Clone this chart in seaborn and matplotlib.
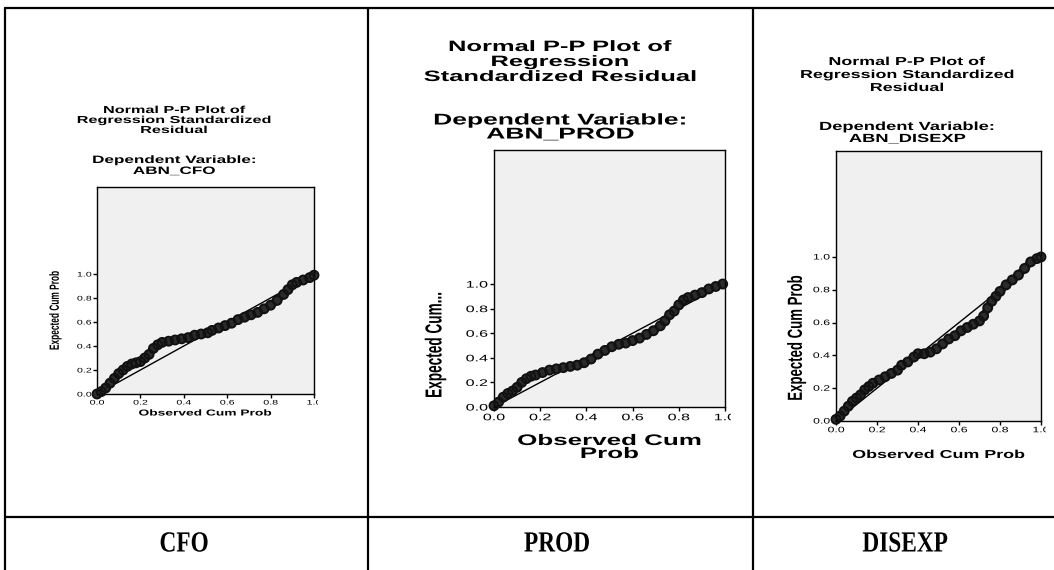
import matplotlib
matplotlib.use("Agg")
import matplotlib.pyplot as plt
import seaborn as sns
import pandas as pd
from matplotlib.patheffects import AbstractPathEffect
from matplotlib.transforms import Affine2D, Bbox, TransformedBbox
from matplotlib.lines import Line2D

# ---------------------------------------------------------------------------
# Normal P-P plot values: observed vs expected cumulative probability
# ---------------------------------------------------------------------------
cfo_observed = [0.00, 0.02, 0.04, 0.06, 0.08, 0.10, 0.12, 0.14, 0.16, 0.18,
                0.20, 0.22, 0.24, 0.26, 0.28, 0.30, 0.33, 0.36, 0.39, 0.42,
                0.45, 0.48, 0.51, 0.53, 0.56, 0.59, 0.62, 0.65, 0.68, 0.71,
                0.74, 0.77, 0.80, 0.83, 0.86, 0.88, 0.90, 0.92, 0.95, 0.98, 1.00]
cfo_expected = [0.00, 0.02, 0.05, 0.09, 0.13, 0.17, 0.20, 0.23, 0.25, 0.26,
                0.27, 0.30, 0.33, 0.38, 0.41, 0.43, 0.44, 0.45, 0.46, 0.47,
                0.49, 0.50, 0.51, 0.53, 0.55, 0.57, 0.59, 0.62, 0.64, 0.66,
                0.68, 0.71, 0.74, 0.78, 0.83, 0.87, 0.91, 0.93, 0.95, 0.97, 0.99]

prod_observed = [0.00, 0.02, 0.04, 0.06, 0.08, 0.10, 0.12, 0.14, 0.16, 0.18,
                 0.21, 0.24, 0.27, 0.30, 0.33, 0.36, 0.39, 0.42, 0.45, 0.48,
                 0.51, 0.54, 0.57, 0.60, 0.63, 0.66, 0.69, 0.72, 0.74, 0.76,
                 0.78, 0.80, 0.82, 0.84, 0.87, 0.90, 0.93, 0.96, 0.99]
prod_expected = [0.01, 0.04, 0.08, 0.11, 0.13, 0.16, 0.20, 0.23, 0.25, 0.26,
                 0.28, 0.30, 0.31, 0.32, 0.33, 0.34, 0.36, 0.39, 0.43, 0.46,
                 0.49, 0.51, 0.52, 0.54, 0.56, 0.59, 0.62, 0.66, 0.70, 0.75,
                 0.78, 0.83, 0.87, 0.89, 0.91, 0.93, 0.96, 0.98, 1.00]

disexp_observed = [0.00, 0.02, 0.04, 0.06, 0.08, 0.10, 0.12, 0.14, 0.16, 0.18,
                   0.21, 0.24, 0.27, 0.30, 0.32, 0.35, 0.38, 0.40, 0.43, 0.46,
                   0.49, 0.52, 0.55, 0.58, 0.61, 0.64, 0.67, 0.70, 0.72, 0.74,
                   0.76, 0.78, 0.80, 0.83, 0.86, 0.89, 0.92, 0.95, 0.98, 1.00]
disexp_expected = [0.01, 0.03, 0.06, 0.09, 0.12, 0.14, 0.16, 0.19, 0.21, 0.23,
                   0.25, 0.27, 0.29, 0.31, 0.34, 0.36, 0.39, 0.41, 0.41, 0.42,
                   0.44, 0.47, 0.50, 0.52, 0.55, 0.57, 0.59, 0.61, 0.64, 0.69,
                   0.73, 0.76, 0.79, 0.83, 0.86, 0.89, 0.93, 0.97, 0.99, 1.00]

reference_line = [0.0, 1.0]
prob_ticks = [0.0, 0.2, 0.4, 0.6, 0.8, 1.0]
prob_tick_labels = ["0.0", "0.2", "0.4", "0.6", "0.8", "1.0"]

model_names = ["CFO", "PROD", "DISEXP"]
dependent_vars = ["ABN_CFO", "ABN_PROD", "ABN_DISEXP"]
title_lines = [
    ["Normal P-P Plot of", "Regression Standardized", "Residual"],
    ["Normal P-P Plot of", "Regression", "Standardized Residual"],
    ["Normal P-P Plot of", "Regression Standardized", "Residual"],
]
y_titles = ["Expected Cum Prob", "Expected Cum...", "Expected Cum Prob"]
x_title_lines = [["Observed Cum Prob"], ["Observed Cum", "Prob"], ["Observed Cum Prob"]]


class Stretch(AbstractPathEffect):
    """Widen rendered glyphs horizontally about an anchor point."""

    def __init__(self, sx, anchor="center"):
        super().__init__()
        self.sx = sx
        self.anchor = anchor

    def draw_path(self, renderer, gc, tpath, affine, rgbFace=None):
        ext = tpath.get_extents()
        gx = {"center": (ext.x0 + ext.x1) / 2, "right": ext.x1, "left": ext.x0}[self.anchor]
        cx, cy = affine.transform((gx, (ext.y0 + ext.y1) / 2))
        t = affine + Affine2D().translate(-cx, -cy).scale(self.sx, 1).translate(cx, cy)
        renderer.draw_path(gc, tpath, t, rgbFace)


sns.set_style("ticks")
plt.rcParams["font.family"] = ["Liberation Sans", "DejaVu Sans"]

W, H = 1054, 570
fig = plt.figure(figsize=(W / 100, H / 100), dpi=100)
fig.patch.set_facecolor("white")


def fx(px):
    return px / W


def fy(py):
    return 1 - py / H


def label(x, y, s, size, sx, weight="bold", rotation=0, family=None, color="black"):
    t = fig.text(fx(x), fy(y), s, ha="center", va="center", fontsize=size,
                 fontweight=weight, rotation=rotation, color=color,
                 family=family if family else ["Liberation Sans", "DejaVu Sans"])
    t.set_path_effects([Stretch(sx)])
    return t


# panel geometry (pixel box: left, top, right, bottom) and text styling
layout = [
    dict(box=(97, 187, 314, 394), ymax=1.725, sx=1.6, tx=174, ty=(110, 120, 130), tfs=7.3,
         sy=(160, 171), sfs=7.7, yl=(56, 310), yfs=6.0, xl=(413,), xfs=6.2, tick=4.8,
         pad=1.0, clip=4),
    dict(box=(494, 150, 725, 407), ymax=2.09, sx=1.7, tx=560, ty=(47, 62, 77), tfs=10.8,
         sy=(120, 134), sfs=11.2, yl=(435, 345), yfs=9.8, xl=(441, 454), xfs=11.0, tick=6.8,
         pad=1.5, clip=6),
    dict(box=(836, 151, 1041, 421), ymax=1.646, sx=1.55, tx=907, ty=(62, 75, 88), tfs=8.3,
         sy=(127, 139), sfs=8.5, yl=(797, 338), yfs=9.5, xl=(455,), xfs=8.3, tick=5.7,
         pad=1.5, clip=5),
]

series = [
    pd.DataFrame({"observed": cfo_observed, "expected": cfo_expected}),
    pd.DataFrame({"observed": prod_observed, "expected": prod_expected}),
    pd.DataFrame({"observed": disexp_observed, "expected": disexp_expected}),
]

for i, (df, cfg) in enumerate(zip(series, layout)):
    l, t, r, b = cfg["box"]
    ax = fig.add_axes([fx(l), fy(b), fx(r) - fx(l), fy(t) - fy(b)])
    ax.set_facecolor("#f0f0f0")

    sns.lineplot(x=reference_line, y=reference_line, ax=ax, color="black", linewidth=1.0)
    # dense chain of residual markers: dark trace under open circles
    sns.lineplot(data=df, x="observed", y="expected", ax=ax, color="#2b2b2b", linewidth=5.5,
                 sort=False, estimator=None, clip_on=False, zorder=2.5,
                 solid_capstyle="round", solid_joinstyle="round")
    sns.scatterplot(data=df, x="observed", y="expected", ax=ax, marker="o", s=40,
                    clip_on=False, zorder=3, legend=False)
    pts = ax.collections[-1]
    pts.set_facecolor("none")
    pts.set_edgecolor("#111111")
    pts.set_linewidth(1.5)

    ax.set_xlim(0, 1)
    ax.set_ylim(0, cfg["ymax"])
    ax.set_xticks(prob_ticks, prob_tick_labels)
    ax.set_yticks(prob_ticks, prob_tick_labels)
    ax.set_xlabel("")
    ax.set_ylabel("")
    ax.tick_params(direction="out", length=3, width=1, labelsize=cfg["tick"], pad=cfg["pad"],
                   colors="black")
    for sp in ax.spines.values():
        sp.set_visible(True)
        sp.set_color("black")
        sp.set_linewidth(1.0)

    clip = TransformedBbox(Bbox.from_extents(0, 0, fx(r + cfg["clip"]), 1), fig.transFigure)
    for lbl in ax.get_xticklabels():
        lbl.set_path_effects([Stretch(cfg["sx"])])
        lbl.set_clip_box(clip)
        lbl.set_clip_on(True)
    for lbl in ax.get_yticklabels():
        lbl.set_path_effects([Stretch(cfg["sx"], "right")])

    for line, yy in zip(title_lines[i], cfg["ty"]):
        label(cfg["tx"], yy, line, cfg["tfs"], cfg["sx"])
    label(cfg["tx"], cfg["sy"][0], "Dependent Variable:", cfg["sfs"], cfg["sx"])
    label(cfg["tx"], cfg["sy"][1], dependent_vars[i], cfg["sfs"], cfg["sx"])
    label(cfg["yl"][0], cfg["yl"][1], y_titles[i], cfg["yfs"], cfg["sx"], rotation=90)
    for line, yy in zip(x_title_lines[i], cfg["xl"]):
        label((l + r) / 2, yy, line, cfg["xfs"], cfg["sx"])

# table grid
grid_kw = dict(transform=fig.transFigure, color="black", linewidth=1.6)
fig.add_artist(Line2D([fx(5), fx(1054)], [fy(8), fy(8)], **grid_kw))
fig.add_artist(Line2D([fx(5), fx(1054)], [fy(517), fy(517)], **grid_kw))
for vx in (5, 368, 753):
    fig.add_artist(Line2D([fx(vx), fx(vx)], [fy(8), fy(570)], **grid_kw))

# model names in the bottom row
for name, cx in zip(model_names, (184, 557, 905)):
    label(cx, 544, name, 21, 0.8, family=["Liberation Serif", "DejaVu Serif"])

fig.savefig("out.png", dpi=100)
